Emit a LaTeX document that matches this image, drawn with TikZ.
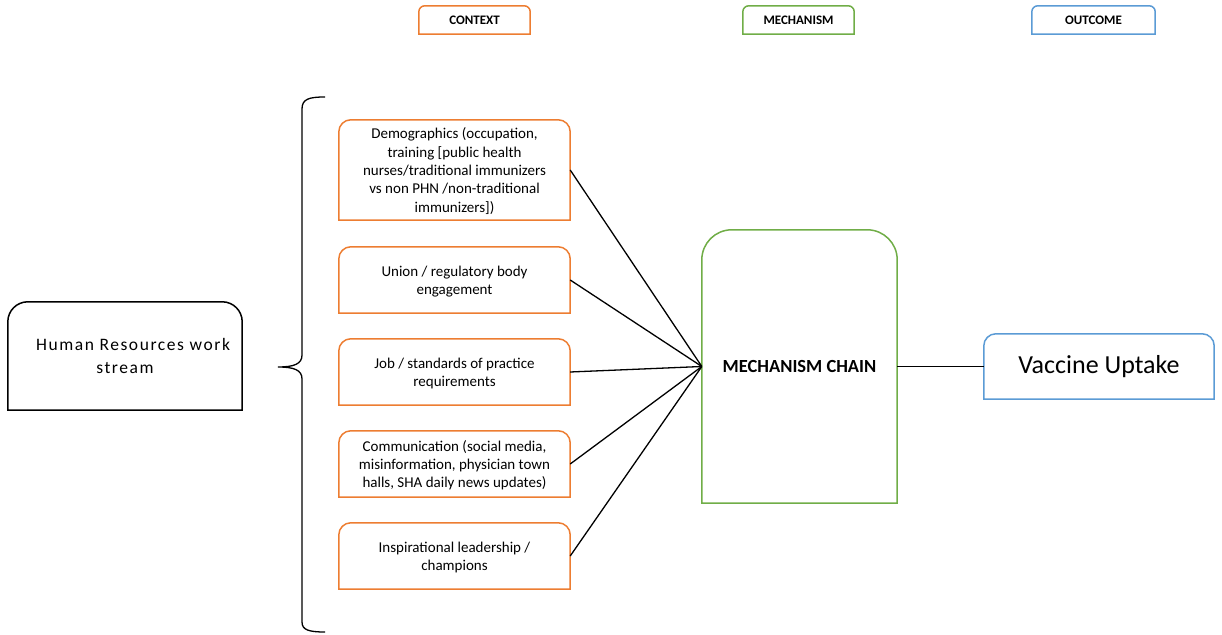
\documentclass[tikz,border=0pt]{standalone}
\usepackage{fontspec}
\setmainfont{Carlito}
\definecolor{ctxorange}{HTML}{ED7D31}
\definecolor{mechgreen}{HTML}{70AD47}
\definecolor{outblue}{HTML}{5B9BD5}

% box outline with rounded top corners only: node, colour, radius
\newcommand{\topround}[3]{%
  \draw[#2, line width=1.5pt]
    (#1.south west) -- ([yshift=-#3]#1.north west)
    arc[start angle=180, end angle=90, radius=#3]
    -- ([xshift=-#3]#1.north east)
    arc[start angle=90, end angle=0, radius=#3]
    -- (#1.south east) -- cycle;}

\begin{document}
\begin{tikzpicture}[x=1pt, y=1pt,
  hdr/.style={minimum width=111pt, minimum height=28pt, inner sep=0pt,
    font=\bfseries\fontsize{13}{15}\selectfont},
  ctxbox/.style={minimum width=231pt, inner sep=0pt, align=center,
    text depth=0pt, execute at begin node={\vspace*{2pt}},
    font=\fontsize{15}{18.4}\selectfont},
  link/.style={draw=black, line width=1.3pt}]
\useasboundingbox (0,0) rectangle (1222,634);

% column headings
\node[hdr] (hctx) at (474.5,614) {CONTEXT};
\node[hdr] (hmech) at (798.5,614) {MECHANISM};
\node[hdr, minimum width=123pt] (hout) at (1093.5,614) {OUTCOME};
\topround{hctx}{ctxorange}{6pt}
\topround{hmech}{mechgreen}{6pt}
\topround{hout}{outblue}{6pt}

% work stream
\node[minimum width=234pt, minimum height=108pt, inner sep=0pt, align=center,
  font=\fontsize{17.5}{23}\selectfont\addfontfeature{LetterSpace=9}]
  (hr) at (125,278) {\hspace*{16pt}Human Resources work\\stream};
\topround{hr}{black}{20pt}

% brace grouping the context factors
\draw[line width=1.3pt]
  (325,537) .. controls (309,537) and (302,535) .. (302,525)
  -- (302,279) .. controls (302,270) and (294,267) .. (278,267)
  .. controls (294,267) and (302,264) .. (302,255)
  -- (302,12) .. controls (302,4) and (309,2) .. (325,2);

% context factors
\node[ctxbox, minimum height=100pt] (c1) at (454.5,464)
  {Demographics (occupation,\\training [public health\\nurses/traditional immunizers\\vs non PHN /non-traditional\\immunizers])};
\node[ctxbox, minimum height=66pt] (c2) at (454.5,354)
  {Union / regulatory body\\engagement};
\node[ctxbox, minimum height=66pt] (c3) at (454.5,262)
  {Job / standards of practice\\requirements};
\node[ctxbox, minimum height=66pt] (c4) at (454.5,170)
  {Communication (social media,\\misinformation, physician town\\halls, SHA daily news updates)};
\node[ctxbox, minimum height=66pt] (c5) at (454.5,78)
  {Inspirational leadership /\\champions};
\foreach \n in {c1,c2,c3,c4,c5}{\topround{\n}{ctxorange}{12pt}}

% mechanism
\node[minimum width=195pt, minimum height=273pt, inner sep=0pt,
  font=\bfseries\fontsize{18.5}{22}\selectfont] (mech) at (799.5,267.5)
  {MECHANISM CHAIN};
\topround{mech}{mechgreen}{30pt}

% outcome
\node[minimum width=230pt, minimum height=65pt, inner sep=0pt,
  font=\fontsize{26}{30}\selectfont] (vac) at (1099,267.5) {Vaccine Uptake};
\topround{vac}{outblue}{12pt}

% connectors
\foreach \n in {c1,c2,c3,c4,c5}{\draw[link] (\n.east) -- (mech.west);}
\draw[link] (mech.east) -- (vac.west);
\end{tikzpicture}
\end{document}
